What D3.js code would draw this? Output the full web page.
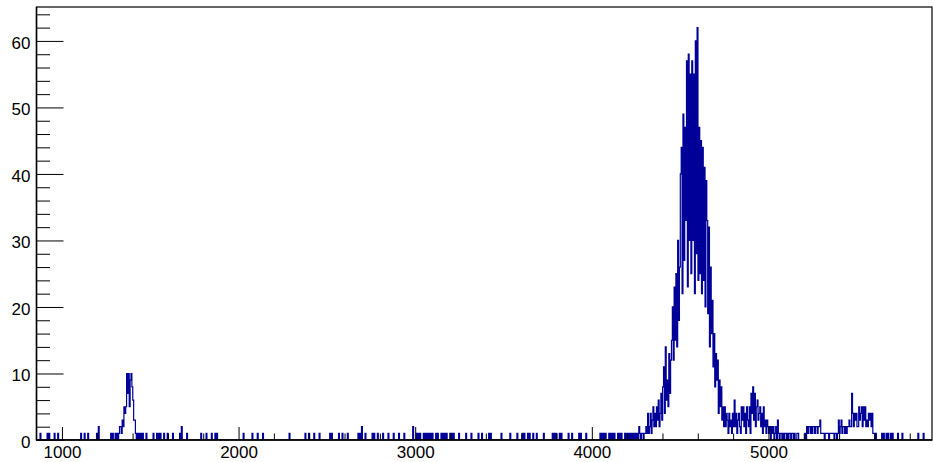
<!DOCTYPE html>
<html>
<head>
<meta charset="utf-8">
<script src="https://cdn.jsdelivr.net/npm/d3@7/dist/d3.min.js"></script>
<style>
  body { margin: 0; background: #fff; }
  svg { display: block; }
  text { font-family: "Liberation Sans", Arial, Helvetica, sans-serif; }
</style>
</head>
<body>
<script>
// Histogram binning (channel units)
const xMin = 856;
const xMax = 5926;
const binWidth = 5;

// Sparse part of the spectrum: [channel (bin low edge), counts]
const isolatedHits = [
  [876,1],[916,1],[926,1],[956,1],[976,1],
  [1106,1],[1126,1],[1146,1],[1196,1],[1206,2],
  [1276,1],[1286,1],[1301,1],[1311,1],[1321,1],[1326,2],[1331,2],[1336,1],
  [1341,3],[1346,2],[1351,5],[1356,4],[1361,5],[1366,10],[1371,7],[1376,10],
  [1381,5],[1386,9],[1391,10],[1396,8],[1401,6],[1406,3],[1411,3],[1416,1],
  [1426,1],[1436,1],[1446,1],
  [1456,1],[1476,1],[1516,1],[1536,1],[1546,1],[1556,1],[1576,1],[1596,1],[1626,1],
  [1666,1],[1676,2],[1706,1],[1786,1],[1816,1],[1846,1],
  [1866,1],[1876,1],[2026,1],[2076,1],[2106,1],[2136,1],
  [2286,1],[2376,1],[2396,1],[2426,1],
  [2456,1],[2516,1],[2526,1],[2566,1],[2586,1],[2616,1],
  [2676,1],[2686,1],[2696,2],[2716,1],[2756,1],[2766,1],[2786,1],[2816,1],[2846,1],
  [2876,1],[2906,1],[2936,1],[2986,2],[3006,1],[3016,1],[3026,1],[3046,1],
  [3056,1],[3066,1],[3076,1],[3086,1],[3096,1],[3116,1],[3126,1],[3146,1],
  [3156,1],[3166,1],[3176,1],[3196,1],[3206,1],[3216,1],[3246,1],
  [3286,1],[3316,1],[3356,1],[3376,1],[3416,1],[3426,1],
  [3486,1],[3536,1],[3576,1],[3606,1],[3616,1],[3636,1],[3646,1],
  [3666,1],[3686,1],[3726,1],[3776,1],[3786,1],[3796,1],[3816,1],[3826,1],
  [3866,1],[3886,1],[3926,1],[3936,1],[3966,1],[4046,1],
  [4056,1],[4066,1],[4076,1],[4096,1],[4106,1],[4116,1],[4126,1],[4146,1],
  [4156,1],[4166,1],[4186,1],[4196,1],[4206,1],[4216,1],[4226,1],[4236,1],[4246,1],
  [5666,1],[5676,1],[5691,1],[5701,1],[5731,1],[5756,1],[5846,1],[5876,1]
];

// Main peak and its shoulder, consecutive bins from channel 4256
const mainPeakStart = 4256;
const mainPeak = [
  1,0,2,1,0,1,1,0,1,1,
  2,1,4,1,2,4,1,3,5,2,
  4,2,5,3,6,2,4,7,3,8,
  11,4,14,6,9,5,13,7,12,15,
  20,12,23,15,25,14,30,18,26,40,
  44,22,49,27,47,33,57,23,58,30,
  55,25,57,30,55,22,60,28,62,24,
  47,25,45,22,44,24,41,20,39,33,
  19,32,14,26,16,21,11,16,8,13,
  9,12,4,9,5,8,3,5,2,5,
  2,4,3,1,4,2,3,1,4,2,
  6,2,4,1,3,4,2,1,5,3,
  5,2,4,1,5,3,2,5,1,7,
  4,8,3,7,2,5,6,3,4,5,
  2,4,1,5,2,3,1,3,2,1,
  2,0,2,1,2,0,1,2,0,3
];

// High-energy region, consecutive bins from channel 5056
const highStart = 5056;
const highRegion = [
  1,0,1,1,0,1,0,1,1,0,
  1,0,1,1,0,1,1,0,1,0,
  0,1,1,0,0,0,0,0,0,0,
  1,0,2,1,2,2,1,2,1,2,
  2,1,2,2,1,2,2,3,1,1,
  1,1,0,1,1,1,1,0,1,1,
  1,1,1,0,1,1,0,1,3,1,
  2,3,1,2,2,1,2,1,2,2,
  3,2,2,7,4,2,4,3,4,2,
  2,5,3,4,5,2,5,3,5,2,
  3,2,4,3,4,2,4,1,1,0,
  1,0,0,0,0,0,0,1,0,1
];

// Axis ticks and ranges
const xMajorTicks = [1000, 2000, 3000, 4000, 5000];
const xMinorStep = 200;
const yMajorTicks = [0, 10, 20, 30, 40, 50, 60];
const yMinorStep = 2;
const yMax = 65.1;

// Assemble the bin table
const nBins = Math.round((xMax - xMin) / binWidth);
const counts = new Array(nBins).fill(0);
const binOf = ch => Math.floor((ch - xMin) / binWidth);
isolatedHits.forEach(([ch, c]) => { counts[binOf(ch)] = c; });
mainPeak.forEach((c, k) => { counts[binOf(mainPeakStart) + k] = c; });
highRegion.forEach((c, k) => { counts[binOf(highStart) + k] = c; });

const W = 933, H = 462;
const frame = { left: 36.5, right: 932, top: 7, bottom: 440 };

const x = d3.scaleLinear().domain([xMin, xMax]).range([frame.left, frame.right]);
const y = d3.scaleLinear().domain([0, yMax]).range([frame.bottom, frame.top]);

const svg = d3.select("body").append("svg")
  .attr("width", W).attr("height", H);

svg.append("defs").append("clipPath").attr("id", "plot")
  .append("rect")
  .attr("x", frame.left).attr("y", frame.top)
  .attr("width", frame.right - frame.left)
  .attr("height", frame.bottom - frame.top);

// Step outline of the histogram
const steps = [[xMin, 0]];
counts.forEach((c, i) => {
  const lo = xMin + i * binWidth;
  steps.push([lo, c], [lo + binWidth, c]);
});
steps.push([xMax, 0]);

svg.append("path")
  .datum(steps)
  .attr("clip-path", "url(#plot)")
  .attr("fill", "none")
  .attr("stroke", "#000099")
  .attr("stroke-width", 1.2)
  .attr("stroke-linejoin", "miter")
  .attr("d", d3.line().x(d => x(d[0])).y(d => y(d[1])));

// Frame
svg.append("rect")
  .attr("x", frame.left).attr("y", frame.top)
  .attr("width", frame.right - frame.left)
  .attr("height", frame.bottom - frame.top)
  .attr("fill", "none").attr("stroke", "#000").attr("stroke-width", 1.2);

// Minor ticks
const xMinor = d3.range(1000, xMax, xMinorStep).filter(v => v % 1000 !== 0);
const yMinor = d3.range(0, yMax, yMinorStep).filter(v => v % 10 !== 0);

svg.append("g")
  .attr("transform", `translate(0,${frame.bottom})`)
  .call(d3.axisBottom(x).tickValues(xMinor).tickSize(-6.5).tickFormat(""))
  .call(g => g.select(".domain").remove());

svg.append("g")
  .attr("transform", `translate(${frame.left},0)`)
  .call(d3.axisLeft(y).tickValues(yMinor).tickSize(-13.5).tickFormat(""))
  .call(g => g.select(".domain").remove());

// Major ticks with labels
const xAxis = svg.append("g")
  .attr("transform", `translate(0,${frame.bottom})`)
  .call(d3.axisBottom(x).tickValues(xMajorTicks).tickSize(-13).tickSizeOuter(0)
        .tickPadding(6).tickFormat(d3.format("d")));
xAxis.select(".domain").remove();

const yAxis = svg.append("g")
  .attr("transform", `translate(${frame.left},0)`)
  .call(d3.axisLeft(y).tickValues(yMajorTicks).tickSize(-27).tickSizeOuter(0)
        .tickPadding(6).tickFormat(d3.format("d")));
yAxis.select(".domain").remove();
yAxis.selectAll("text").attr("dy", "0.42em");

svg.selectAll(".tick line").attr("stroke", "#000").attr("stroke-width", 1);
svg.selectAll(".tick text")
  .attr("fill", "#000")
  .style("font-size", "17px")
  .style("font-family", "'Liberation Sans', Arial, Helvetica, sans-serif");

// Axis lines drawn over the histogram baseline
svg.append("line")
  .attr("x1", frame.left).attr("x2", frame.right)
  .attr("y1", frame.bottom).attr("y2", frame.bottom)
  .attr("stroke", "#000").attr("stroke-width", 1.5);
svg.append("line")
  .attr("x1", frame.left).attr("x2", frame.left)
  .attr("y1", frame.top).attr("y2", frame.bottom)
  .attr("stroke", "#000").attr("stroke-width", 1.5);
</script>
</body>
</html>
